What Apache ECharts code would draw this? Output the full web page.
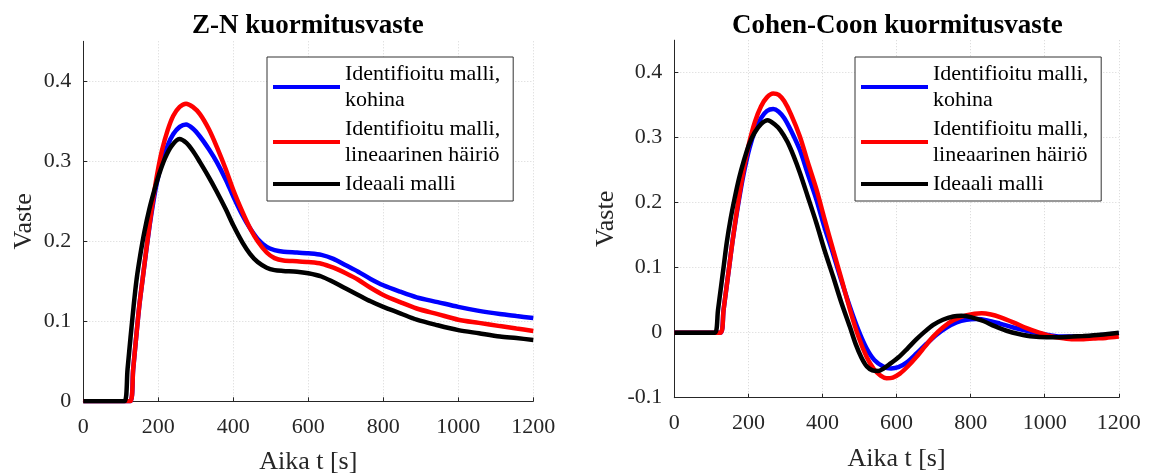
<!DOCTYPE html>
<html>
<head>
<meta charset="utf-8">
<script src="https://cdn.jsdelivr.net/npm/echarts@6/dist/echarts.min.js"></script>
<style>
  html, body { margin: 0; padding: 0; background: #ffffff; }
  #chart { width: 1154px; height: 473px; }
</style>
</head>
<body>
<div id="chart"></div>
<script>
// Series names (legend entries)
const nameNoise = 'Identifioitu malli,\nkohina';
const nameLinear = 'Identifioitu malli,\nlineaarinen häiriö';
const nameIdeal = 'Ideaali malli';

// Axis ticks
const xTicks = [0, 200, 400, 600, 800, 1000, 1200];
const yTicksZN = [0, 0.1, 0.2, 0.3, 0.4];
const yTicksCC = [-0.1, 0, 0.1, 0.2, 0.3, 0.4];

// Z-N load response: time [s] and response
const znNoiseT = [0, 100, 125, 133, 141, 149, 158, 167, 177, 187, 197, 210, 225, 240, 257, 274, 292, 311, 335, 356, 380, 400, 425, 445, 465, 489, 510, 534, 570, 600, 635, 667, 700, 733, 766, 800, 845, 889, 945, 1000, 1055, 1111, 1155, 1200];
const znNoiseV = [0, 0, 0, 0.04, 0.08, 0.118, 0.152, 0.185, 0.22, 0.25, 0.275, 0.3, 0.32, 0.334, 0.343, 0.346, 0.341, 0.331, 0.315, 0.299, 0.277, 0.256, 0.232, 0.216, 0.203, 0.193, 0.189, 0.187, 0.186, 0.185, 0.183, 0.178, 0.170, 0.162, 0.153, 0.145, 0.137, 0.130, 0.124, 0.118, 0.113, 0.109, 0.1065, 0.104];

const znLinearT = [0, 100, 125, 133, 141, 149, 158, 167, 177, 187, 197, 210, 225, 240, 257, 274, 292, 311, 335, 356, 380, 400, 425, 445, 465, 489, 510, 534, 570, 600, 635, 667, 700, 733, 766, 800, 845, 889, 945, 1000, 1055, 1111, 1155, 1200];
const znLinearV = [0, 0, 0, 0.04, 0.08, 0.118, 0.152, 0.186, 0.222, 0.255, 0.284, 0.314, 0.339, 0.357, 0.368, 0.372, 0.368, 0.359, 0.340, 0.318, 0.290, 0.264, 0.236, 0.216, 0.200, 0.186, 0.179, 0.176, 0.175, 0.174, 0.172, 0.167, 0.160, 0.152, 0.142, 0.133, 0.124, 0.116, 0.109, 0.102, 0.098, 0.094, 0.091, 0.088];

const znIdealT = [0, 90, 110, 118, 126, 134, 142, 152, 163, 176, 189, 203, 218, 235, 256, 275, 295, 311, 335, 356, 380, 400, 425, 445, 465, 489, 510, 533, 570, 600, 635, 667, 700, 733, 766, 800, 845, 889, 945, 1000, 1055, 1111, 1155, 1200];
const znIdealV = [0, 0, 0, 0.04, 0.08, 0.118, 0.152, 0.183, 0.212, 0.24, 0.263, 0.285, 0.304, 0.319, 0.328, 0.323, 0.311, 0.299, 0.280, 0.262, 0.240, 0.220, 0.198, 0.184, 0.174, 0.167, 0.164, 0.163, 0.162, 0.160, 0.156, 0.149, 0.141, 0.133, 0.125, 0.118, 0.110, 0.102, 0.095, 0.089, 0.085, 0.081, 0.079, 0.0767];

// Cohen-Coon load response: time [s] and response
const ccNoiseT = [0, 100, 125, 133, 141, 149, 157, 167, 178, 190, 203, 218, 234, 250, 267, 282, 297, 315, 339, 360, 384, 405, 429, 450, 474, 497, 519, 540, 564, 585, 605, 627, 654, 681, 708, 735, 762, 789, 816, 845, 879, 915, 951, 985, 1014, 1050, 1086, 1130, 1165, 1200];
const ccNoiseV = [0, 0, 0, 0.035, 0.07, 0.105, 0.14, 0.178, 0.216, 0.252, 0.284, 0.311, 0.330, 0.341, 0.344, 0.340, 0.330, 0.311, 0.281, 0.245, 0.204, 0.163, 0.121, 0.082, 0.040, 0.004, -0.024, -0.042, -0.052, -0.055, -0.053, -0.046, -0.032, -0.017, -0.003, 0.008, 0.016, 0.020, 0.021, 0.019, 0.014, 0.008, 0.003, -0.001, -0.004, -0.006, -0.006, -0.005, -0.003, -0.001];

const ccLinearT = [0, 100, 125, 133, 141, 149, 157, 167, 178, 190, 203, 218, 234, 250, 267, 282, 297, 315, 339, 360, 384, 405, 429, 450, 474, 497, 519, 540, 557, 573, 590, 609, 630, 654, 677, 699, 725, 753, 790, 830, 855, 879, 915, 951, 985, 1014, 1045, 1077, 1105, 1131, 1165, 1200];
const ccLinearV = [0, 0, 0, 0.035, 0.07, 0.105, 0.14, 0.18, 0.22, 0.259, 0.294, 0.325, 0.348, 0.362, 0.368, 0.366, 0.356, 0.336, 0.302, 0.263, 0.220, 0.176, 0.127, 0.085, 0.036, -0.006, -0.037, -0.057, -0.066, -0.070, -0.069, -0.063, -0.052, -0.037, -0.021, -0.006, 0.008, 0.019, 0.027, 0.030, 0.028, 0.024, 0.016, 0.007, 0.000, -0.005, -0.008, -0.010, -0.010, -0.009, -0.008, -0.006];

const ccIdealT = [0, 90, 110, 118, 126, 134, 142, 152, 163, 175, 188, 202, 217, 234, 252, 270, 287, 305, 322, 339, 360, 384, 405, 429, 450, 474, 490, 505, 520, 535, 550, 565, 580, 609, 630, 654, 677, 699, 725, 753, 775, 800, 834, 865, 897, 930, 969, 1005, 1041, 1075, 1104, 1150, 1200];
const ccIdealV = [0, 0, 0, 0.035, 0.07, 0.105, 0.14, 0.175, 0.207, 0.238, 0.265, 0.29, 0.308, 0.321, 0.327, 0.321, 0.311, 0.294, 0.272, 0.246, 0.210, 0.168, 0.128, 0.086, 0.048, 0.009, -0.018, -0.038, -0.052, -0.058, -0.059, -0.055, -0.049, -0.036, -0.024, -0.010, 0.002, 0.012, 0.020, 0.025, 0.026, 0.024, 0.018, 0.010, 0.003, -0.002, -0.006, -0.007, -0.007, -0.006, -0.005, -0.003, 0.0];

const zip = (t, v) => t.map((x, i) => [x, v[i]]);

const serif = 'Liberation Serif';
const ink = '#262626';
const gridStyle = { color: '#d6d6d6', type: [1, 2], width: 1 };
const colors = { noise: '#0000ff', linear: '#ff0000', ideal: '#000000' };
const plainNumber = (v) => String(v);

function xAxisFor(gridIndex) {
  return {
    type: 'value', gridIndex, min: 0, max: 1200,
    name: 'Aika t [s]', nameLocation: 'middle', nameGap: 48,
    nameTextStyle: { fontFamily: serif, fontSize: 26, color: ink },
    axisLine: { show: true, onZero: false, lineStyle: { color: ink, width: 1 } },
    axisTick: { show: true, inside: true, length: 4, customValues: xTicks, lineStyle: { color: ink } },
    axisLabel: { customValues: xTicks, formatter: plainNumber, margin: 15, fontFamily: serif, fontSize: 22, color: ink },
    splitLine: { show: true, lineStyle: gridStyle }
  };
}

function yAxisFor(gridIndex, min, ticks, nameGap) {
  return {
    type: 'value', gridIndex, min, max: 0.45,
    name: 'Vaste', nameLocation: 'middle', nameGap,
    nameTextStyle: { fontFamily: serif, fontSize: 26, color: ink },
    axisLine: { show: true, onZero: false, lineStyle: { color: ink, width: 1 } },
    axisTick: { show: true, inside: true, length: 4, customValues: ticks, lineStyle: { color: ink } },
    axisLabel: { customValues: ticks, formatter: plainNumber, margin: 12, fontFamily: serif, fontSize: 22, color: ink },
    splitLine: { show: true, lineStyle: gridStyle }
  };
}

function lineSeries(name, data, color, axisIndex) {
  return {
    type: 'line', name, data,
    xAxisIndex: axisIndex, yAxisIndex: axisIndex,
    showSymbol: false, symbol: 'none',
    smooth: 0.3,
    lineStyle: { color, width: 4.5 },
    itemStyle: { color },
    emphasis: { disabled: true },
    z: 2
  };
}

function legendAt(left) {
  return {
    left, top: 57, orient: 'vertical',
    data: [nameNoise, nameLinear, nameIdeal],
    icon: 'rect', itemWidth: 67, itemHeight: 4, itemGap: 3,
    padding: [4, 13, 4, 6],
    backgroundColor: '#ffffff', borderColor: '#333333', borderWidth: 1,
    textStyle: { fontFamily: serif, fontSize: 22, lineHeight: 26, color: '#000000' },
    selectedMode: false
  };
}

const chart = echarts.init(document.getElementById('chart'), null, { renderer: 'canvas' });
chart.setOption({
  animation: false,
  backgroundColor: '#ffffff',
  title: [
    { text: 'Z-N kuormitusvaste', left: 192, top: 13, padding: 0,
      textStyle: { fontFamily: serif, fontSize: 27, fontWeight: 'bold', color: '#000' } },
    { text: 'Cohen-Coon kuormitusvaste', left: 732, top: 13, padding: 0,
      textStyle: { fontFamily: serif, fontSize: 27, fontWeight: 'bold', color: '#000' } }
  ],
  grid: [
    { left: 83.3, top: 41.3, width: 450, height: 360, containLabel: false, outerBoundsMode: 'none' },
    { left: 674.3, top: 40.2, width: 444.5, height: 357.5, containLabel: false, outerBoundsMode: 'none' }
  ],
  xAxis: [xAxisFor(0), xAxisFor(1)],
  yAxis: [yAxisFor(0, 0, yTicksZN, 46), yAxisFor(1, -0.1, yTicksCC, 55)],
  legend: [legendAt(267), legendAt(855)],
  series: [
    lineSeries(nameNoise, zip(znNoiseT, znNoiseV), colors.noise, 0),
    lineSeries(nameLinear, zip(znLinearT, znLinearV), colors.linear, 0),
    lineSeries(nameIdeal, zip(znIdealT, znIdealV), colors.ideal, 0),
    lineSeries(nameNoise, zip(ccNoiseT, ccNoiseV), colors.noise, 1),
    lineSeries(nameLinear, zip(ccLinearT, ccLinearV), colors.linear, 1),
    lineSeries(nameIdeal, zip(ccIdealT, ccIdealV), colors.ideal, 1)
  ]
});
</script>
</body>
</html>
